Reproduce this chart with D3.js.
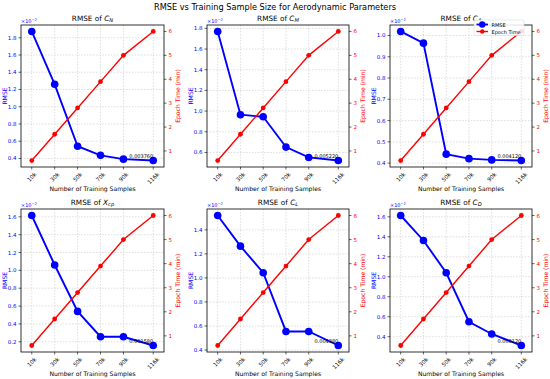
<!DOCTYPE html>
<html>
<head>
<meta charset="utf-8">
<script src="https://cdn.jsdelivr.net/npm/d3@7"></script>
<style>
  body { margin: 0; background: #fff; }
  svg { font-family: "DejaVu Sans", sans-serif; }
</style>
</head>
<body>
<svg id="chart" width="550" height="379"></svg>
<script>
// training set sizes (thousands) and labels
const samples = [10, 30, 50, 70, 90, 116];
const sampleLabels = ["10k", "30k", "50k", "70k", "90k", "116k"];
// epoch time (min), same for every panel
const epochTime = [0.6, 1.7, 2.8, 3.9, 5.0, 6.0];
const epochTicks = [1, 2, 3, 4, 5, 6];

// RMSE per parameter
const rmseCN  = [0.01873, 0.01260, 0.00542, 0.00436, 0.00392, 0.00376];
const rmseCM  = [0.01770, 0.00965, 0.00945, 0.00652, 0.00552, 0.00522];
const rmseCA  = [0.01019, 0.00964, 0.00442, 0.00421, 0.00415, 0.00412];
const rmseXcp = [0.01615, 0.01060, 0.00540, 0.00256, 0.00256, 0.00158];
const rmseCL  = [0.01519, 0.01264, 0.01043, 0.00555, 0.00555, 0.00438];
const rmseCD  = [0.01613, 0.01363, 0.01040, 0.00550, 0.00427, 0.00312];

const panelNames = [["C", "N"], ["C", "M"], ["C", "A"], ["X", "cp"], ["C", "L"], ["C", "D"]];
const panelRmse = [rmseCN, rmseCM, rmseCA, rmseXcp, rmseCL, rmseCD];

const BLUE = "#0000ff", RED = "#ff0000";
const cols = [[21, 164], [207, 349], [390, 532]];
const rows = [[25, 167], [209, 352]];

const svg = d3.select("#chart");

svg.append("text")
  .attr("x", 275).attr("y", 10)
  .attr("text-anchor", "middle")
  .style("font-size", "8.2px")
  .text("RMSE vs Training Sample Size for Aerodynamic Parameters");

panelRmse.forEach((vals, i) => {
  const [x0, x1] = cols[i % 3];
  const [y0, y1] = rows[Math.floor(i / 3)];
  const scaled = vals.map(v => v * 100);   // shown as x10^-2

  const x = d3.scaleLinear().domain([0.6, 125.4]).range([x0, x1]);
  const [mn, mx] = d3.extent(scaled);
  const pad = (mx - mn) * 0.05;
  const y = d3.scaleLinear().domain([mn - pad, mx + pad]).range([y1, y0]);
  const ePad = (d3.max(epochTime) - d3.min(epochTime)) * 0.05;
  const yR = d3.scaleLinear()
    .domain([d3.min(epochTime) - ePad, d3.max(epochTime) + ePad])
    .range([y1, y0]);
  const yTicks = y.ticks(7);

  const g = svg.append("g");

  // grid
  g.append("g").selectAll("line").data(samples).join("line")
    .attr("x1", d => x(d)).attr("x2", d => x(d))
    .attr("y1", y0).attr("y2", y1)
    .attr("stroke", "#c8c8c8").attr("stroke-width", 0.6)
    .attr("stroke-dasharray", "1.5,1.5");
  g.append("g").selectAll("line").data(yTicks).join("line")
    .attr("x1", x0).attr("x2", x1)
    .attr("y1", d => y(d)).attr("y2", d => y(d))
    .attr("stroke", "#c8c8c8").attr("stroke-width", 0.6)
    .attr("stroke-dasharray", "1.5,1.5");

  // RMSE line
  const pts = samples.map((s, k) => [s, scaled[k]]);
  g.append("path")
    .datum(pts)
    .attr("fill", "none").attr("stroke", BLUE).attr("stroke-width", 1.9)
    .attr("d", d3.line().x(d => x(d[0])).y(d => y(d[1])));
  g.append("g").selectAll("circle").data(pts).join("circle")
    .attr("cx", d => x(d[0])).attr("cy", d => y(d[1]))
    .attr("r", 3.8).attr("fill", BLUE);

  // last value annotation
  const last = pts[pts.length - 1];
  g.append("text")
    .attr("x", x(last[0])).attr("y", y(last[1]) - 2.5)
    .attr("text-anchor", "end")
    .style("font-size", "5px")
    .text(d3.format(".6f")(vals[vals.length - 1]));

  // frame
  g.append("rect")
    .attr("x", x0).attr("y", y0).attr("width", x1 - x0).attr("height", y1 - y0)
    .attr("fill", "none").attr("stroke", "#000").attr("stroke-width", 0.8);

  // left axis ticks
  const la = g.append("g");
  la.selectAll("line").data(yTicks).join("line")
    .attr("x1", x0 - 2.5).attr("x2", x0)
    .attr("y1", d => y(d)).attr("y2", d => y(d))
    .attr("stroke", "#000").attr("stroke-width", 0.6);
  la.selectAll("text").data(yTicks).join("text")
    .attr("x", x0 - 4.5).attr("y", d => y(d))
    .attr("text-anchor", "end").attr("dominant-baseline", "central")
    .attr("fill", BLUE).style("font-size", "5.5px")
    .text(d => d3.format(".1f")(d));
  const off = g.append("text")
    .attr("x", x0).attr("y", y0 - 2.5)
    .attr("fill", BLUE).style("font-size", "5px");
  off.append("tspan").text("\u00d710");
  off.append("tspan").attr("dy", -2).style("font-size", "3.6px").text("\u22122");

  // bottom ticks
  g.append("g").selectAll("line").data(samples).join("line")
    .attr("x1", d => x(d)).attr("x2", d => x(d))
    .attr("y1", y1).attr("y2", y1 + 2.5)
    .attr("stroke", "#000").attr("stroke-width", 0.6);
  g.append("g").selectAll("text").data(samples).join("text")
    .attr("text-anchor", "middle").attr("dominant-baseline", "central")
    .style("font-size", "5.5px")
    .text((d, k) => sampleLabels[k])
    .each(function(d) {
      const w = this.getComputedTextLength();
      const cy = y1 + 4.5 + (w + 5.5) * 0.7071 / 2;
      d3.select(this)
        .attr("x", x(d)).attr("y", cy)
        .attr("transform", `rotate(-45,${x(d)},${cy})`);
    });

  // epoch time (twin axis, drawn on top)
  const ePts = samples.map((s, k) => [s, epochTime[k]]);
  g.append("path")
    .datum(ePts)
    .attr("fill", "none").attr("stroke", RED).attr("stroke-width", 1.4)
    .attr("d", d3.line().x(d => x(d[0])).y(d => yR(d[1])));
  g.append("g").selectAll("circle").data(ePts).join("circle")
    .attr("cx", d => x(d[0])).attr("cy", d => yR(d[1]))
    .attr("r", 2.4).attr("fill", RED);

  const ra = g.append("g");
  ra.selectAll("line").data(epochTicks).join("line")
    .attr("x1", x1).attr("x2", x1 + 2.5)
    .attr("y1", d => yR(d)).attr("y2", d => yR(d))
    .attr("stroke", "#000").attr("stroke-width", 0.6);
  ra.selectAll("text").data(epochTicks).join("text")
    .attr("x", x1 + 4.5).attr("y", d => yR(d))
    .attr("dominant-baseline", "central")
    .attr("fill", RED).style("font-size", "5.5px")
    .text(d => d);

  // labels
  const cx = (x0 + x1) / 2;
  const cyMid = (y0 + y1) / 2;
  g.append("text")
    .attr("x", cx).attr("y", y1 + 23.5)
    .attr("text-anchor", "middle")
    .style("font-size", "6.1px")
    .text("Number of Training Samples");
  g.append("text")
    .attr("transform", `translate(${x0 - 14},${cyMid}) rotate(-90)`)
    .attr("text-anchor", "middle")
    .attr("fill", BLUE).style("font-size", "6.1px")
    .text("RMSE");
  g.append("text")
    .attr("transform", `translate(${x1 + 16},${cyMid}) rotate(-90)`)
    .attr("text-anchor", "middle")
    .attr("fill", RED).style("font-size", "6.1px")
    .text("Epoch Time (min)");

  const t = g.append("text")
    .attr("x", cx).attr("y", y0 - 4.5)
    .attr("text-anchor", "middle")
    .style("font-size", "7.3px");
  t.append("tspan").text("RMSE of ");
  t.append("tspan").style("font-style", "italic").text(panelNames[i][0]);
  t.append("tspan").style("font-style", "italic").style("font-size", "5.2px")
    .attr("dy", 1.6).text(panelNames[i][1]);

  // legend only in the third panel
  if (i === 2) {
    const lg = svg.append("g").attr("transform", `translate(${x1 - 58},${y0 - 5})`);
    lg.append("rect")
      .attr("width", 50).attr("height", 15.5).attr("rx", 1.2)
      .attr("fill", "#fff").attr("fill-opacity", 0.85)
      .attr("stroke", "#d0d0d0").attr("stroke-width", 0.5);
    const items = [["RMSE", BLUE, 1.8, 3.2], ["Epoch Time", RED, 1.4, 2.2]];
    items.forEach((it, k) => {
      const ly = 4.5 + k * 7;
      lg.append("line")
        .attr("x1", 2.5).attr("x2", 14).attr("y1", ly).attr("y2", ly)
        .attr("stroke", it[1]).attr("stroke-width", it[2]);
      lg.append("circle").attr("cx", 8.25).attr("cy", ly).attr("r", it[3]).attr("fill", it[1]);
      lg.append("text")
        .attr("x", 17.5).attr("y", ly)
        .attr("dominant-baseline", "central")
        .style("font-size", "5px")
        .text(it[0]);
    });
  }
});
</script>
</body>
</html>
